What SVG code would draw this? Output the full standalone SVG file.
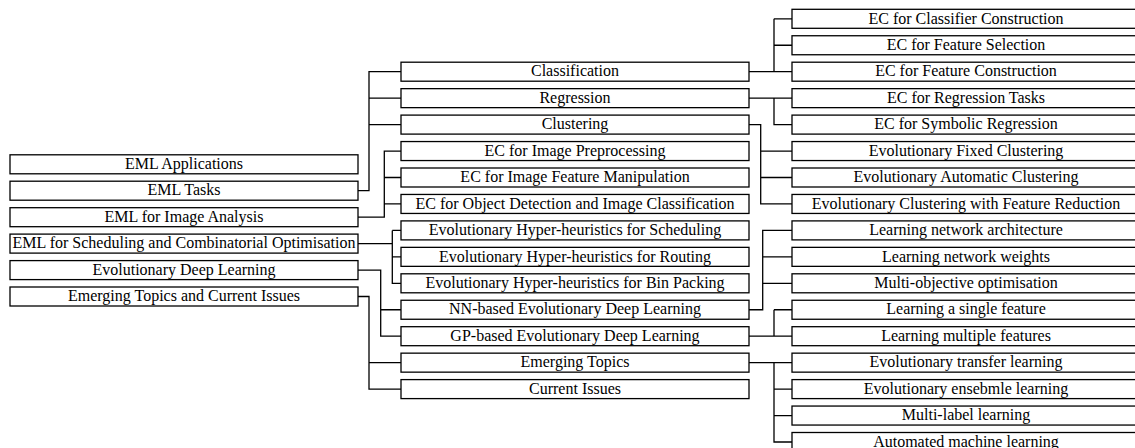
<svg xmlns="http://www.w3.org/2000/svg" width="1135" height="448" viewBox="0 0 1135 448">
<style>
.box{fill:#fff;stroke:#000;stroke-width:1.3}
.t{font-family:"Liberation Serif","Times New Roman",serif;font-size:16px;fill:#000;text-anchor:middle}
.c{fill:none;stroke:#000;stroke-width:1.3}
</style>
<rect width="1135" height="448" fill="#fff"/>
<g id="connectors" class="c">
<path d="M358 190.7H369V71.7H401M369 98.15H401M369 124.6H401"/>
<path d="M358 217.2H384.3V151.05H401M384.3 177.5H401M384.3 203.95H401"/>
<path d="M358 243.6H392.3M392.3 230.4V283.3H401M392.3 230.4H401M392.3 256.85H401"/>
<path d="M358 270.1H380.7V336.2H401M380.7 309.75H401"/>
<path d="M358 296.5H369V389.1H401M369 362.65H401"/>
<path d="M749 71.7H774M774 18.8V71.7H792M774 18.8H792M774 45.25H792"/>
<path d="M749 98.15H792M774 98.15V124.6H792"/>
<path d="M749 124.6H760.7V203.95H792M760.7 151.05H792M760.7 177.5H792"/>
<path d="M749 309.75H762.7V230.4H792M762.7 256.85H792M762.7 283.3H792"/>
<path d="M749 336.2H792M774 309.75V336.2M774 309.75H792"/>
<path d="M749 362.65H792M774 362.65V442H792M774 389.1H792M774 415.55H792"/>
</g>
<g id="eml-applications"><rect class="box" x="10" y="154.8" width="348" height="19"/><text class="t" font-family="Liberation Serif, serif" x="184" y="169">EML Applications</text></g>
<g id="eml-tasks"><rect class="box" x="10" y="181.2" width="348" height="19"/><text class="t" font-family="Liberation Serif, serif" x="184" y="195.4">EML Tasks</text></g>
<g id="eml-image"><rect class="box" x="10" y="207.7" width="348" height="19"/><text class="t" font-family="Liberation Serif, serif" x="184" y="221.9">EML for Image Analysis</text></g>
<g id="eml-scheduling"><rect class="box" x="10" y="234.1" width="348" height="19"/><text class="t" font-family="Liberation Serif, serif" x="184" y="248.3">EML for Scheduling and Combinatorial Optimisation</text></g>
<g id="evo-deep"><rect class="box" x="10" y="260.6" width="348" height="19"/><text class="t" font-family="Liberation Serif, serif" x="184" y="274.8">Evolutionary Deep Learning</text></g>
<g id="emerging-current"><rect class="box" x="10" y="287" width="348" height="19"/><text class="t" font-family="Liberation Serif, serif" x="184" y="301.2">Emerging Topics and Current Issues</text></g>

<g id="classification"><rect class="box" x="401" y="62.2" width="348" height="19"/><text class="t" font-family="Liberation Serif, serif" x="575" y="76.4">Classification</text></g>
<g id="regression"><rect class="box" x="401" y="88.65" width="348" height="19"/><text class="t" font-family="Liberation Serif, serif" x="575" y="102.85">Regression</text></g>
<g id="clustering"><rect class="box" x="401" y="115.1" width="348" height="19"/><text class="t" font-family="Liberation Serif, serif" x="575" y="129.3">Clustering</text></g>
<g id="img-preproc"><rect class="box" x="401" y="141.55" width="348" height="19"/><text class="t" font-family="Liberation Serif, serif" x="575" y="155.75">EC for Image Preprocessing</text></g>
<g id="img-feature"><rect class="box" x="401" y="168" width="348" height="19"/><text class="t" font-family="Liberation Serif, serif" x="575" y="182.2">EC for Image Feature Manipulation</text></g>
<g id="img-object"><rect class="box" x="401" y="194.45" width="348" height="19"/><text class="t" font-family="Liberation Serif, serif" x="575" y="208.65">EC for Object Detection and Image Classification</text></g>
<g id="hh-sched"><rect class="box" x="401" y="220.9" width="348" height="19"/><text class="t" font-family="Liberation Serif, serif" x="575" y="235.1">Evolutionary Hyper-heuristics for Scheduling</text></g>
<g id="hh-routing"><rect class="box" x="401" y="247.35" width="348" height="19"/><text class="t" font-family="Liberation Serif, serif" x="575" y="261.55">Evolutionary Hyper-heuristics for Routing</text></g>
<g id="hh-bin"><rect class="box" x="401" y="273.8" width="348" height="19"/><text class="t" font-family="Liberation Serif, serif" x="575" y="288">Evolutionary Hyper-heuristics for Bin Packing</text></g>
<g id="nn-edl"><rect class="box" x="401" y="300.25" width="348" height="19"/><text class="t" font-family="Liberation Serif, serif" x="575" y="314.45">NN-based Evolutionary Deep Learning</text></g>
<g id="gp-edl"><rect class="box" x="401" y="326.7" width="348" height="19"/><text class="t" font-family="Liberation Serif, serif" x="575" y="340.9">GP-based Evolutionary Deep Learning</text></g>
<g id="emerging"><rect class="box" x="401" y="353.15" width="348" height="19"/><text class="t" font-family="Liberation Serif, serif" x="575" y="367.35">Emerging Topics</text></g>
<g id="current"><rect class="box" x="401" y="379.6" width="348" height="19"/><text class="t" font-family="Liberation Serif, serif" x="575" y="393.8">Current Issues</text></g>

<g id="r-classifier"><rect class="box" x="792" y="9.3" width="348" height="19"/><text class="t" font-family="Liberation Serif, serif" x="966" y="23.5">EC for Classifier Construction</text></g>
<g id="r-fs"><rect class="box" x="792" y="35.75" width="348" height="19"/><text class="t" font-family="Liberation Serif, serif" x="966" y="49.95">EC for Feature Selection</text></g>
<g id="r-fc"><rect class="box" x="792" y="62.2" width="348" height="19"/><text class="t" font-family="Liberation Serif, serif" x="966" y="76.4">EC for Feature Construction</text></g>
<g id="r-regtasks"><rect class="box" x="792" y="88.65" width="348" height="19"/><text class="t" font-family="Liberation Serif, serif" x="966" y="102.85">EC for Regression Tasks</text></g>
<g id="r-symreg"><rect class="box" x="792" y="115.1" width="348" height="19"/><text class="t" font-family="Liberation Serif, serif" x="966" y="129.3">EC for Symbolic Regression</text></g>
<g id="r-fixed"><rect class="box" x="792" y="141.55" width="348" height="19"/><text class="t" font-family="Liberation Serif, serif" x="966" y="155.75">Evolutionary Fixed Clustering</text></g>
<g id="r-auto"><rect class="box" x="792" y="168" width="348" height="19"/><text class="t" font-family="Liberation Serif, serif" x="966" y="182.2">Evolutionary Automatic Clustering</text></g>
<g id="r-fr"><rect class="box" x="792" y="194.45" width="348" height="19"/><text class="t" font-family="Liberation Serif, serif" x="966" y="208.65">Evolutionary Clustering with Feature Reduction</text></g>
<g id="r-arch"><rect class="box" x="792" y="220.9" width="348" height="19"/><text class="t" font-family="Liberation Serif, serif" x="966" y="235.1">Learning network architecture</text></g>
<g id="r-weights"><rect class="box" x="792" y="247.35" width="348" height="19"/><text class="t" font-family="Liberation Serif, serif" x="966" y="261.55">Learning network weights</text></g>
<g id="r-mo"><rect class="box" x="792" y="273.8" width="348" height="19"/><text class="t" font-family="Liberation Serif, serif" x="966" y="288">Multi-objective optimisation</text></g>
<g id="r-single"><rect class="box" x="792" y="300.25" width="348" height="19"/><text class="t" font-family="Liberation Serif, serif" x="966" y="314.45">Learning a single feature</text></g>
<g id="r-multi"><rect class="box" x="792" y="326.7" width="348" height="19"/><text class="t" font-family="Liberation Serif, serif" x="966" y="340.9">Learning multiple features</text></g>
<g id="r-transfer"><rect class="box" x="792" y="353.15" width="348" height="19"/><text class="t" font-family="Liberation Serif, serif" x="966" y="367.35">Evolutionary transfer learning</text></g>
<g id="r-ensemble"><rect class="box" x="792" y="379.6" width="348" height="19"/><text class="t" font-family="Liberation Serif, serif" x="966" y="393.8">Evolutionary ensebmle learning</text></g>
<g id="r-multilabel"><rect class="box" x="792" y="406.05" width="348" height="19"/><text class="t" font-family="Liberation Serif, serif" x="966" y="420.25">Multi-label learning</text></g>
<g id="r-automl"><rect class="box" x="792" y="432.5" width="348" height="19"/><text class="t" font-family="Liberation Serif, serif" x="966" y="446.7">Automated machine learning</text></g>
</svg>
